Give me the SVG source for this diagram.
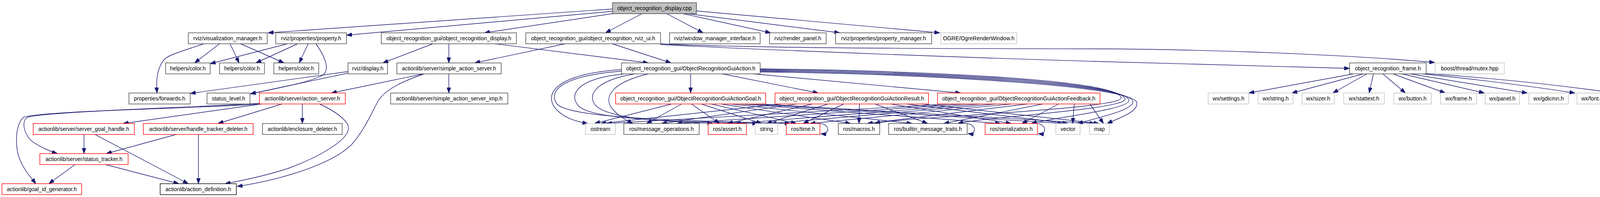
<svg xmlns="http://www.w3.org/2000/svg" width="4235" height="504" viewBox="0 0 4235 504">
<style>
rect{fill:#fff;stroke:#404040;stroke-width:1.4}
rect.cpp{fill:#bfbfbf}
rect.gy{stroke:#bfbfbf}
rect.rd{stroke:#ff0000}
rect.bk{stroke:#000}
text{font-family:"Liberation Sans",Arial,sans-serif;font-size:14px;text-anchor:middle;fill:#000}
#edges path{fill:none;stroke:#191970;stroke-width:1.4;marker-end:url(#a)}
</style>
<defs>
<marker id="a" markerWidth="14" markerHeight="10" refX="14" refY="5" orient="auto" markerUnits="userSpaceOnUse"><path d="M0,0 L14,5 L0,10 Z" fill="#191970" stroke="#191970"/></marker>
</defs>
<rect x="0" y="0" width="4235" height="504" style="fill:#fff;stroke:none"/>
<g id="edges">
<path d="M1568,23 L686,84"/>
<path d="M1568,29 L887,90"/>
<path d="M1574,34 L1240,84"/>
<path d="M1645,34 L1550,84"/>
<path d="M1705,34 L1800,84"/>
<path d="M1744,34 L1973,84"/>
<path d="M1752,34 L2150,84"/>
<path d="M1783,28 L2406,84"/>
<path d="M522,112 C460,133 430,140 418,155 C400,180 400,210 402,238"/>
<path d="M562,112 L498,161"/>
<path d="M589,112 L612,161"/>
<path d="M616,112 L727,161"/>
<path d="M736,112 L538,163"/>
<path d="M762,112 L655,161"/>
<path d="M789,112 L766,161"/>
<path d="M809,112 C835,150 845,180 825,193 C795,210 700,228 641,240"/>
<path d="M891,183 L487,239"/>
<path d="M891,187 L641,240"/>
<path d="M1108,112 L980,161"/>
<path d="M1149,112 L1149,161"/>
<path d="M1267,112 L1660,161"/>
<path d="M1447,112 L1215,161"/>
<path d="M1567,112 L1718,161"/>
<path d="M1691,112 C1950,125 2500,124 2800,125 S3450,140 3673,160"/>
<path d="M1691,114 C2000,130 2500,148 2800,157 S3300,172 3455,175"/>
<path d="M1084,189 L848,238"/>
<path d="M1149,189 L1149,238"/>
<path d="M1086,189 C1010,215 985,235 970,255 C950,290 935,330 900,370 C850,420 720,460 607,477"/>
<path d="M1768,189 L1768,238"/>
<path d="M1849,189 L2095,238"/>
<path d="M1929,189 L2460,238"/>
<path d="M774,266 L774,316"/>
<path d="M818,266 C870,290 895,315 892,330 C888,360 820,400 740,430 C680,450 620,462 576,470"/>
<path d="M722,266 L558,316"/>
<path d="M670,266 L315,316"/>
<path d="M668,264 C500,275 120,285 70,300 C55,310 60,340 80,360 C100,375 130,388 147,393"/>
<path d="M666,266 C500,278 110,283 60,300 C40,320 40,360 45,390 C55,430 80,455 92,470"/>
<path d="M215,344 L215,393"/>
<path d="M243,344 L482,470"/>
<path d="M451,344 L272,393"/>
<path d="M508,344 L508,470"/>
<path d="M192,421 L125,470"/>
<path d="M270,421 L458,470"/>
<path d="M3465,189 L3197,238"/>
<path d="M3490,189 L3307,238"/>
<path d="M3499,189 L3412,238"/>
<path d="M3516,189 L3505,238"/>
<path d="M3540,189 L3598,238"/>
<path d="M3566,189 L3700,238"/>
<path d="M3589,189 L3800,238"/>
<path d="M3610,189 L3910,238"/>
<path d="M3641,189 Q3850,210 4032,238"/>
<path d="M3650,188 Q3900,205 4135,238"/>
<path d="M1591,178 C1420,190 1395,240 1420,275 C1440,300 1470,310 1505,316"/>
<path d="M1591,182 C1430,195 1405,235 1425,265 C1450,300 1700,308 2023,316"/>
<path d="M1600,189 C1480,200 1455,240 1480,270 C1510,305 1700,310 1940,316"/>
<path d="M1625,189 C1530,205 1500,240 1525,270 C1560,305 1700,310 1825,316"/>
<path d="M1660,189 C1570,210 1545,245 1565,275 C1585,300 1600,305 1620,316"/>
<path d="M1946,176 C2400,182 2860,205 2870,250 C2875,280 2299,300 2239,316"/>
<path d="M1946,178 C2400,184 2870,209 2880,253 C2885,280 2512,300 2452,316"/>
<path d="M1946,180 C2400,186 2880,213 2890,256 C2895,280 2700,300 2640,316"/>
<path d="M1946,182 C2400,188 2890,217 2900,259 C2905,280 2818,300 2758,316"/>
<path d="M1946,184 C2400,190 2900,221 2910,262 C2915,285 2870,300 2834,316"/>
<path d="M1720,266 L1522,316"/>
<path d="M1745,266 L1655,316"/>
<path d="M1770,266 L1842,316"/>
<path d="M1795,266 L1950,316"/>
<path d="M1820,266 L2039,316"/>
<path d="M1845,266 L2178,316"/>
<path d="M1870,266 L2335,316"/>
<path d="M1895,266 L2562,316"/>
<path d="M1920,266 L2722,316"/>
<path d="M1945,266 L2804,316"/>
<path d="M2000,266 L1537,316"/>
<path d="M2040,266 L1693,316"/>
<path d="M2080,266 L1862,316"/>
<path d="M2120,266 L1962,316"/>
<path d="M2160,266 L2056,316"/>
<path d="M2200,266 L2199,316"/>
<path d="M2240,266 L2375,316"/>
<path d="M2280,266 L2589,316"/>
<path d="M2320,266 L2734,316"/>
<path d="M2360,266 L2814,316"/>
<path d="M2430,266 L1552,316"/>
<path d="M2470,266 L1732,316"/>
<path d="M2510,266 L1882,316"/>
<path d="M2550,266 L1974,316"/>
<path d="M2590,266 L2073,316"/>
<path d="M2630,266 L2220,316"/>
<path d="M2670,266 L2416,316"/>
<path d="M2710,266 L2616,316"/>
<path d="M2750,266 L2746,316"/>
<path d="M2790,266 L2825,316"/>
<path d="M2090,316 C2125,312 2128,345 2101,342"/>
<path d="M2465,316 C2500,312 2503,345 2478,342"/>
<path d="M2645,316 C2680,312 2683,345 2658,342"/>
</g>
<g id="n_cpp"><rect class="cpp" x="1568" y="7" width="215" height="28"/><text x="1675.5" y="26">object_recognition_display.cpp</text></g>
<g id="n_vm"><rect x="482" y="84" width="202" height="28"/><text x="583" y="103">rviz/visualization_manager.h</text></g>
<g id="n_prop"><rect x="706" y="84" width="181" height="28"/><text x="796.5" y="103">rviz/properties/property.h</text></g>
<g id="n_ordisp"><rect x="976" y="84" width="346" height="28"/><text x="1149" y="103">object_recognition_gui/object_recognition_display.h</text></g>
<g id="n_rvizui"><rect x="1346" y="84" width="345" height="28"/><text x="1518.5" y="103">object_recognition_gui/object_recognition_rviz_ui.h</text></g>
<g id="n_wmi"><rect x="1714" y="84" width="232" height="28"/><text x="1830" y="103">rviz/window_manager_interface.h</text></g>
<g id="n_rp"><rect x="1970" y="84" width="145" height="28"/><text x="2042.5" y="103">rviz/render_panel.h</text></g>
<g id="n_pm"><rect x="2139" y="84" width="246" height="28"/><text x="2262" y="103">rviz/properties/property_manager.h</text></g>
<g id="n_ogre"><rect class="gy" x="2408" y="84" width="195" height="28"/><text x="2505.5" y="103">OGRE/OgreRenderWindow.h</text></g>
<g id="n_col1"><rect x="424" y="161" width="114" height="28"/><text x="481" y="180">helpers/color.h</text></g>
<g id="n_col2"><rect x="562" y="161" width="115" height="28"/><text x="619.5" y="180">helpers/color.h</text></g>
<g id="n_col3"><rect x="701" y="161" width="115" height="28"/><text x="758.5" y="180">helpers/color.h</text></g>
<g id="n_disp"><rect x="891" y="161" width="101" height="28"/><text x="941.5" y="180">rviz/display.h</text></g>
<g id="n_sas"><rect x="1016" y="161" width="267" height="28"/><text x="1149.5" y="180">actionlib/server/simple_action_server.h</text></g>
<g id="n_gui"><rect x="1591" y="161" width="355" height="28"/><text x="1768.5" y="180">object_recognition_gui/ObjectRecognitionGuiAction.h</text></g>
<g id="n_frame"><rect x="3455" y="161" width="196" height="28"/><text x="3553" y="180">object_recognition_frame.h</text></g>
<g id="n_mutex"><rect class="gy" x="3674" y="161" width="177" height="28"/><text x="3762.5" y="180">boost/thread/mutex.hpp</text></g>
<g id="n_fwd"><rect x="330" y="238" width="157" height="28"/><text x="408.5" y="257">properties/forwards.h</text></g>
<g id="n_sl"><rect x="530" y="238" width="110" height="28"/><text x="585" y="257">status_level.h</text></g>
<g id="n_as"><rect class="rd" x="664" y="238" width="220" height="28"/><text x="774" y="257">actionlib/server/action_server.h</text></g>
<g id="n_sasimp"><rect x="1000" y="238" width="300" height="28"/><text x="1150" y="257">actionlib/server/simple_action_server_imp.h</text></g>
<g id="n_goal"><rect class="rd" x="1576" y="238" width="384" height="28"/><text x="1768" y="257">object_recognition_gui/ObjectRecognitionGuiActionGoal.h</text></g>
<g id="n_result"><rect class="rd" x="1984" y="238" width="393" height="28"/><text x="2180.5" y="257">object_recognition_gui/ObjectRecognitionGuiActionResult.h</text></g>
<g id="n_fb"><rect class="rd" x="2400" y="238" width="416" height="28"/><text x="2608" y="257">object_recognition_gui/ObjectRecognitionGuiActionFeedback.h</text></g>
<g id="n_wxsettings"><rect class="gy" x="3093" y="238" width="104" height="28"/><text x="3145" y="257">wx/settings.h</text></g>
<g id="n_wxstring"><rect class="gy" x="3221" y="238" width="89" height="28"/><text x="3265.5" y="257">wx/string.h</text></g>
<g id="n_wxsizer"><rect class="gy" x="3333" y="238" width="83" height="28"/><text x="3374.5" y="257">wx/sizer.h</text></g>
<g id="n_wxstattext"><rect class="gy" x="3440" y="238" width="104" height="28"/><text x="3492" y="257">wx/stattext.h</text></g>
<g id="n_wxbutton"><rect class="gy" x="3568" y="238" width="96" height="28"/><text x="3616" y="257">wx/button.h</text></g>
<g id="n_wxframe"><rect class="gy" x="3688" y="238" width="92" height="28"/><text x="3734" y="257">wx/frame.h</text></g>
<g id="n_wxpanel"><rect class="gy" x="3802" y="238" width="88" height="28"/><text x="3846" y="257">wx/panel.h</text></g>
<g id="n_wxgdicmn"><rect class="gy" x="3914" y="238" width="101" height="28"/><text x="3964.5" y="257">wx/gdicmn.h</text></g>
<g id="n_wxfont"><rect class="gy" x="4037" y="238" width="78" height="28"/><text x="4076" y="257">wx/font.h</text></g>
<g id="n_wxcolour"><rect class="gy" x="4138" y="238" width="92" height="28"/><text x="4184" y="257">wx/colour.h</text></g>
<g id="n_sgh"><rect class="rd" x="85" y="316" width="259" height="28"/><text x="214.5" y="335">actionlib/server/server_goal_handle.h</text></g>
<g id="n_htd"><rect class="rd" x="367" y="316" width="281" height="28"/><text x="507.5" y="335">actionlib/server/handle_tracker_deleter.h</text></g>
<g id="n_encl"><rect x="672" y="316" width="204" height="28"/><text x="774" y="335">actionlib/enclosure_deleter.h</text></g>
<g id="n_ostream"><rect class="gy" x="1499" y="316" width="76" height="28"/><text x="1537" y="335">ostream</text></g>
<g id="n_msgops"><rect x="1597" y="316" width="193" height="28"/><text x="1693.5" y="335">ros/message_operations.h</text></g>
<g id="n_assert"><rect class="rd" x="1813" y="316" width="98" height="28"/><text x="1862" y="335">ros/assert.h</text></g>
<g id="n_string"><rect class="gy" x="1933" y="316" width="58" height="28"/><text x="1962" y="335">string</text></g>
<g id="n_time"><rect class="rd" x="2013" y="316" width="86" height="28"/><text x="2056" y="335">ros/time.h</text></g>
<g id="n_macros"><rect x="2146" y="316" width="106" height="28"/><text x="2199" y="335">ros/macros.h</text></g>
<g id="n_builtin"><rect x="2275" y="316" width="201" height="28"/><text x="2375.5" y="335">ros/builtin_message_traits.h</text></g>
<g id="n_serial"><rect class="rd" x="2522" y="316" width="134" height="28"/><text x="2589" y="335">ros/serialization.h</text></g>
<g id="n_vector"><rect class="gy" x="2703" y="316" width="62" height="28"/><text x="2734" y="335">vector</text></g>
<g id="n_map"><rect class="gy" x="2789" y="316" width="51" height="28"/><text x="2814.5" y="335">map</text></g>
<g id="n_st"><rect class="rd" x="102" y="393" width="226" height="28"/><text x="215" y="412">actionlib/server/status_tracker.h</text></g>
<g id="n_gid"><rect class="rd" x="5" y="470" width="204" height="28"/><text x="107" y="489">actionlib/goal_id_generator.h</text></g>
<g id="n_adef"><rect class="bk" x="410" y="470" width="195" height="28"/><text x="507.5" y="489">actionlib/action_definition.h</text></g>
</svg>
